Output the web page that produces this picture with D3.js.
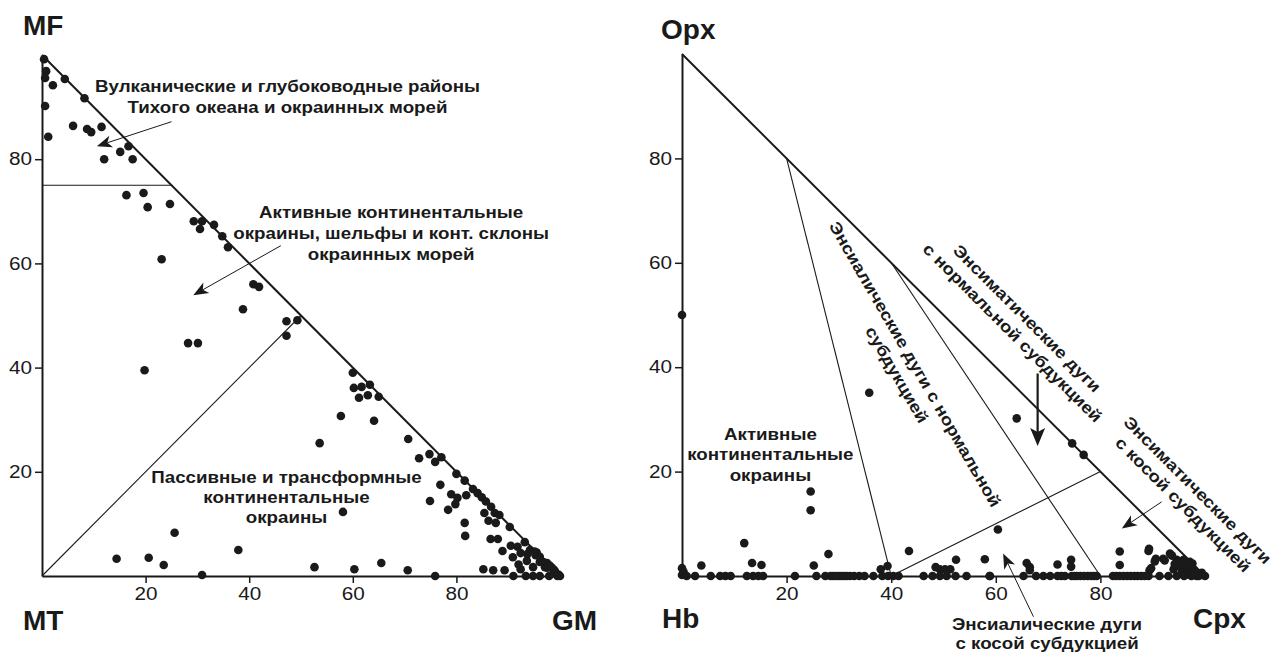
<!DOCTYPE html>
<html>
<head>
<meta charset="utf-8">
<script src="https://cdnjs.cloudflare.com/ajax/libs/d3/7.8.5/d3.min.js"></script>
<style>
  body { margin: 0; background: #fff; }
  text { font-family: "Liberation Sans", Arial, sans-serif; }
</style>
</head>
<body>
<script>
// ---- data ----
const tickVals = [20, 40, 60, 80];

// left diagram: [GM, MF]  (MT = 100 - GM - MF)
const leftPoints = [
  [0.4,99.2],[0.8,96.9],[0.6,95.6],[2.1,94.2],[4.4,95.4],[8.2,91.7],[0.6,90.2],[1.2,84.3],
  [6.0,86.4],[8.7,85.8],[9.5,85.2],[11.5,86.2],[16.7,82.5],[15.1,81.4],[12.0,80.0],[17.5,80.0],
  [16.3,73.1],[19.6,73.5],[20.4,70.8],[24.7,71.4],[29.3,68.1],[30.9,68.1],[30.5,66.6],[33.2,67.4],
  [34.8,65.2],[35.9,63.1],[23.1,60.8],[40.8,56.0],[41.9,55.5],[38.8,51.2],[47.2,48.9],[49.3,49.1],
  [47.2,46.1],[28.2,44.7],[30.1,44.7],[19.8,39.5],[53.6,25.5],[25.6,8.3],[37.9,5.0],[14.4,3.3],
  [20.6,3.5],[23.5,2.1],[30.9,0.2],[52.6,1.7],
  [60.0,39.0],[60.2,36.1],[61.7,36.3],[63.3,36.7],[61.2,34.2],[62.9,34.7],[65.0,34.4],[57.7,30.7],
  [64.1,29.8],[70.7,26.3],[72.8,22.6],[74.8,23.4],[75.9,21.9],[77.1,22.8],[80.0,19.6],[81.6,18.3],
  [76.9,17.5],[83.2,16.7],[79.0,15.7],[80.2,15.0],[81.9,15.5],[84.1,15.9],[84.9,15.1],[85.7,14.3],
  [74.9,14.4],[79.8,13.8],[86.7,13.3],[78.4,12.7],[85.4,12.1],[87.4,12.1],[88.3,11.7],[58.1,12.3],
  [86.2,10.6],[87.6,10.2],[81.6,10.2],[90.3,9.4],[81.7,7.7],[86.6,7.1],[88.0,7.1],[88.9,4.8],
  [90.5,5.8],[91.8,5.6],[93.2,6.5],[90.9,3.6],[92.4,4.4],[94.2,5.0],[95.3,4.0],[95.5,4.5],
  [92.4,1.3],[93.6,2.9],[94.8,1.7],[96.1,2.7],[97.1,1.7],[97.5,2.5],[99.0,1.0],
  [60.3,1.3],[65.5,2.5],[70.6,1.1],[75.9,0],[85.2,1.3],[87.1,1.1],[89.3,1.1],[91.0,0],
  [92.0,2.2],[93.7,4.2],[95.1,4.7],[96.1,3.7],[96.8,2.7],[97.5,1.6],[98.0,2.0],[98.7,1.3],
  [98.4,1.6],[99.7,0.3],[100,0],[93.4,0],[94.8,0],[96.1,0],[97.9,0],[98.9,0.6],[99.5,0]
];

// right diagram: [Cpx, Opx]  (Hb = 100 - Cpx - Opx)
const rightPoints = [
  [0,50],[35.8,35.1],[24.6,16.2],[24.6,12.6],[11.9,6.3],[28.0,4.2],[13.4,2.5],[15.2,2.1],
  [3.7,2.0],[25.2,2.0],[43.4,4.8],[39.3,1.9],[38.0,1.3],[52.4,3.1],[0,1.5],[0,0.2],[0.3,0.8],
  [64.0,30.2],[74.6,25.4],[76.8,23.2],[60.4,8.9],[83.7,4.7],[89.3,5.2],[90.6,3.3],[92.0,3.3],
  [93.3,4.3],[94.6,3.1],[95.9,3.1],[97.1,2.7],[97.6,2.4],[95.2,1.8],[96.5,1.5],[97.8,0.8],
  [99.0,0.5],[100,0],[98.4,0],[83.7,2.1],[89.7,1.5],[74.4,3.1],[74.4,1.8],[71.8,2.2],[57.9,3.2],
  [65.9,2.5],[66.5,1.7],[58.9,0],[49.3,1.3],[50.3,1.3],[51.3,1.3],[48.5,1.7],[66.5,1.1],
  [92.3,3.0],[93.7,3.9],[94.0,1.3],[89.2,4.8],[90.4,2.8],[89.4,1.1],
  [95.5,0.5],[96.8,0.3],[97.7,1.2],[98.2,0.4],[99.3,0.2],[96.3,2.2],[95.0,2.5],[94.2,2.3],[99.4,0.6],
  [0.9,0],[2.5,0],[5.5,0],[7.3,0],[8.3,0],[9.3,0],[12.4,0],[13.6,0],[14.6,0],[15.5,0],[21.6,0],
  [25.7,0],[27.4,0],[28.4,0],[28.9,0],[29.4,0],[30.0,0],[30.5,0],[31.0,0],[31.5,0],[32.1,0],
  [32.9,0],[33.9,0],[34.9,0],[36.6,0],[38.3,0],[39.4,0],[40.4,0],[41.4,0],[46.2,0],[47.9,0],
  [49.3,0],[50.6,0],[52.3,0],[54.4,0],[58.8,0],[65.3,0],[67.7,0],[69.1,0],[70.4,0],[71.8,0],
  [72.5,0],[73.2,0],[74.5,0],[75.0,0],[75.5,0],[76.2,0],[76.9,0],[77.6,0],[78.3,0],[78.8,0],
  [79.3,0],[82.4,0],[83.0,0],[83.7,0],[84.4,0],[85.1,0],[85.8,0],[86.5,0],[87.1,0],[87.8,0],
  [88.5,0],[89.2,0],[91.3,0],[93.0,0],[94.6,0],[96.0,0],[97.4,0],[98.8,0]
];

const leftCorners = ["MF", "MT", "GM"];
const rightCorners = ["Opx", "Hb", "Cpx"];

// field boundaries
const leftLines = [[[0,75],[25,75]], [[0,0],[50,50]]];
const rightLines = [[[20,80],[40,0]], [[40,60],[80,0]], [[40,0],[80,20]]];

// field names (at = centre of first line)
const leftLabels = [
  {at:[47.4,94.1], rot:0, lh:21, lines:["Вулканические и глубоководные районы", "Тихого океана и окраинных морей"]},
  {at:[67.4,69.8], rot:0, lh:21, lines:["Активные континентальные", "окраины, шельфы и конт. склоны", "окраинных морей"]},
  {at:[47.2,18.9], rot:0, lh:20, lines:["Пассивные и трансформные", "континентальные", "окраины"]}
];
const rightLabels = [
  {at:[16.9,27.2], rot:0, lh:20.5, lines:["Активные", "континентальные", "окраины"]},
  {at:[69.8,-9.2], rot:0, lh:19, lines:["Энсиалические дуги", "с косой субдукцией"]},
  {at:[44.6,40.6], rot:60, lh:21, lines:["Энсиалические дуги с нормальной", "субдукцией"]},
  {at:[66.0,49.4], rot:45, lh:20.5, lines:["Энсиматические дуги", "с нормальной субдукцией"]},
  {at:[98.6,16.5], rot:45, lh:20.5, lines:["Энсиматические дуги", "с косой субдукцией"]}
];

const leftArrows = [
  {from:[25.0,87.2], to:[10.6,82.5]},
  {from:[46.1,63.4], to:[29.2,53.9]}
];
const rightArrows = [
  {from:[68.0,38.8], to:[68.0,24.9]},
  {from:[91.7,14.2], to:[84.1,9.1]},
  {from:[67.2,-7.8], to:[61.4,4.3]}
];

// ---- drawing ----
const W = 1274, H = 652;
const svg = d3.select("body").append("svg")
  .attr("width", W).attr("height", H)
  .style("background", "#fff");

const INK = "#1a1a1a";
const STRETCH = 1.15;

// the original lettering is a bit wider than Arial, so widen every label
function stretchText(sel) {
  sel.each(function() {
    const L = this.getComputedTextLength();
    d3.select(this).attr("textLength", L * STRETCH).attr("lengthAdjust", "spacingAndGlyphs");
  });
}

function arrowHead(x1, y1, x2, y2, L, hw) {
  const dx = x2 - x1, dy = y2 - y1, len = Math.hypot(dx, dy);
  const ux = dx / len, uy = dy / len, nx = -uy, ny = ux;
  const bx = x2 - ux * L, by = y2 - uy * L;
  const mx = x2 - ux * (L - 4), my = y2 - uy * (L - 4);
  return {
    d: `M${x2},${y2}L${bx + nx * hw},${by + ny * hw}L${mx},${my}L${bx - nx * hw},${by - ny * hw}Z`,
    ex: mx, ey: my
  };
}

function diagram(cfg) {
  const x = d3.scaleLinear().domain([0, 100]).range(cfg.xr);
  const y = d3.scaleLinear().domain([0, 100]).range(cfg.yr);
  const g = svg.append("g");

  // inner field lines
  g.selectAll(".fl").data(cfg.lines).join("line")
    .attr("x1", d => x(d[0][0])).attr("y1", d => y(d[0][1]))
    .attr("x2", d => x(d[1][0])).attr("y2", d => y(d[1][1]))
    .attr("stroke", INK).attr("stroke-width", 1.1);

  // hypotenuse
  g.append("line")
    .attr("x1", x(0)).attr("y1", y(100)).attr("x2", x(100)).attr("y2", y(0))
    .attr("stroke", INK).attr("stroke-width", 2);

  // axes
  const ay = g.append("g").attr("transform", `translate(${x(0)},0)`)
    .call(d3.axisLeft(y).tickValues(tickVals).tickSize(7).tickSizeOuter(0).tickPadding(3));
  const ax = g.append("g").attr("transform", `translate(0,${y(0)})`)
    .call(d3.axisBottom(x).tickValues(tickVals).tickSize(7).tickSizeOuter(0).tickPadding(4));
  [ax, ay].forEach(a => {
    a.select(".domain").attr("stroke", INK).attr("stroke-width", 2);
    a.selectAll(".tick line").attr("stroke", INK).attr("stroke-width", 1.5);
    a.selectAll(".tick text").attr("font-size", 18).attr("fill", INK)
      .attr("font-family", "Liberation Sans, Arial, sans-serif");
    a.selectAll(".tick text").call(stretchText);
  });

  // points
  g.selectAll(".pt").data(cfg.points).join("circle")
    .attr("cx", d => x(d[0])).attr("cy", d => y(d[1])).attr("r", 4.3)
    .attr("fill", INK);

  // arrows
  cfg.arrows.forEach(a => {
    const x1 = x(a.from[0]), y1 = y(a.from[1]), x2 = x(a.to[0]), y2 = y(a.to[1]);
    const big = a.from[0] === a.to[0];
    const h = arrowHead(x1, y1, x2, y2, big ? 18 : 15, big ? 7.5 : 6);
    g.append("line").attr("x1", x1).attr("y1", y1).attr("x2", h.ex).attr("y2", h.ey)
      .attr("stroke", INK).attr("stroke-width", big ? 2.2 : 1);
    g.append("path").attr("d", h.d).attr("fill", INK);
  });

  // field labels
  cfg.labels.forEach(l => {
    const t = g.append("text")
      .attr("transform", `translate(${x(l.at[0])},${y(l.at[1])}) rotate(${l.rot})`)
      .attr("text-anchor", "middle").attr("font-size", 16.3).attr("font-weight", "bold")
      .attr("fill", INK);
    l.lines.forEach((s, i) => {
      t.append("tspan").attr("x", 0).attr("y", i * l.lh).attr("dy", "0.36em").text(s);
    });
    t.selectAll("tspan").call(stretchText);
  });

  // corner names: top, bottom-left, bottom-right
  const cn = [
    {t: cfg.corners[0], px: x(0) + cfg.off[0][0], py: y(100) + cfg.off[0][1]},
    {t: cfg.corners[1], px: x(0) + cfg.off[1][0], py: y(0) + cfg.off[1][1]},
    {t: cfg.corners[2], px: x(100) + cfg.off[2][0], py: y(0) + cfg.off[2][1]}
  ];
  g.selectAll(".cn").data(cn).join("text")
    .attr("x", d => d.px).attr("y", d => d.py)
    .attr("font-size", 28).attr("font-weight", "bold").attr("fill", INK)
    .text(d => d.t);
}

diagram({
  xr: [42, 560], yr: [576, 55],
  points: leftPoints, lines: leftLines, labels: leftLabels, arrows: leftArrows,
  corners: leftCorners, off: [[-19, -20], [-19, 54], [-8, 54]]
});
diagram({
  xr: [682, 1205], yr: [576, 54],
  points: rightPoints, lines: rightLines, labels: rightLabels, arrows: rightArrows,
  corners: rightCorners, off: [[-21, -15], [-20, 52], [-12, 52]]
});
</script>
</body>
</html>
